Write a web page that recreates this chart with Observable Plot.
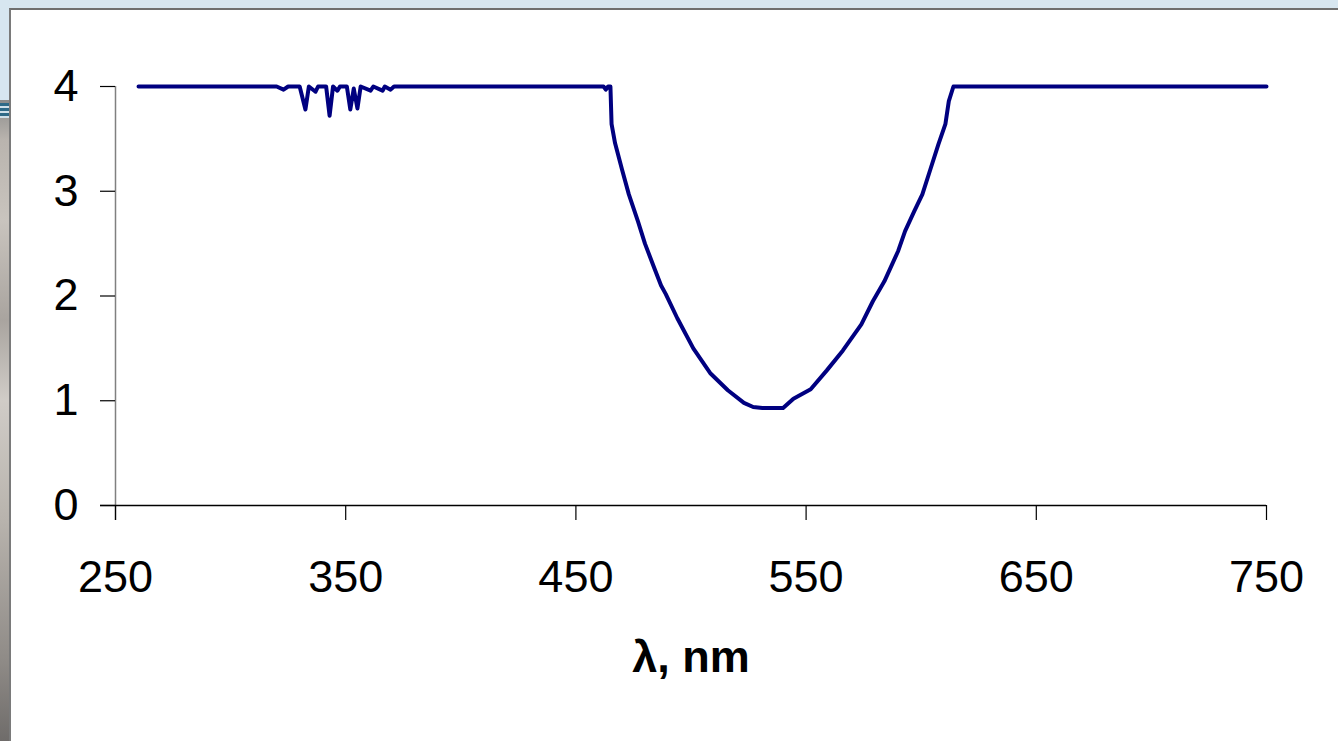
<!DOCTYPE html>
<html>
<head>
<meta charset="utf-8">
<script src="https://cdn.jsdelivr.net/npm/d3@7"></script>
<script src="https://cdn.jsdelivr.net/npm/@observablehq/plot@0.6"></script>
<style>
  html, body { margin: 0; padding: 0; }
  body { width: 1338px; height: 741px; overflow: hidden; position: relative; background: #d7e6f0; font-family: "Liberation Sans", Arial, sans-serif; }
  #strip { position: absolute; left: 0; top: 100px; width: 10px; height: 641px;
    background: linear-gradient(180deg, #8a8a8a 0px, #b9b4ae 40px, #c9c4be 120px, #a9a49f 220px, #d0ccc7 300px, #b8b3ad 420px, #8f8b87 560px, #6f6c6a 641px); }
  #marks { position: absolute; left: 0; top: 103px; width: 10px; height: 15px;
    background: repeating-linear-gradient(180deg, #2e6a88 0px, #2e6a88 3px, #cfe0ea 3px, #cfe0ea 5px); }
  #panel { position: absolute; left: 9px; top: 8px; width: 1329px; height: 733px; background: #fff;
    border-top: 2px solid #6f6f6f; border-left: 2px solid #7a7a7a; box-sizing: border-box; }
  #chart { position: absolute; left: 0; top: 0; }
</style>
</head>
<body>
<div id="strip"></div>
<div id="marks"></div>
<div id="panel"></div>
<div id="chart"></div>
<script>
// wavelength (nm)
const wavelength = [
  260, 320, 323, 325, 330, 332.5, 334, 336.9, 338, 341.5, 343, 344.5, 346.4, 347.5,
  350.5, 352, 353.5, 355.1, 356.5, 360.8, 362, 366, 367, 369.5, 371,
  462, 463, 464, 465, 465.5, 467, 470, 473, 477, 480, 484, 487, 489, 494, 501, 508.5,
  516, 523, 527, 531, 540, 544.5, 552, 559, 566, 574, 579, 584, 590, 593, 597, 600.5,
  604, 607.5, 610.5, 612, 614, 750
];
// absorbance
const absorbance = [
  4, 4, 3.97, 4, 4, 3.78, 4, 3.95, 4, 4, 3.72, 4, 3.96, 4,
  4, 3.78, 3.98, 3.79, 4, 3.96, 4, 3.96, 4, 3.97, 4,
  4, 3.97, 4, 4, 3.64, 3.46, 3.21, 2.97, 2.71, 2.50, 2.27, 2.10, 2.02, 1.79, 1.50, 1.26,
  1.10, 0.98, 0.94, 0.93, 0.93, 1.02, 1.11, 1.29, 1.48, 1.73, 1.95, 2.14, 2.43, 2.62, 2.81, 2.97,
  3.21, 3.45, 3.64, 3.86, 4, 4
];
const xTicks = [250, 350, 450, 550, 650, 750];
const yTicks = [0, 1, 2, 3, 4];
const xTitle = ["λ, nm"];

const data = wavelength.map((x, i) => ({x, y: absorbance[i]}));

const chart = Plot.plot({
  width: 1338,
  height: 741,
  marginLeft: 115,
  marginRight: 72,
  marginTop: 86,
  marginBottom: 236,
  style: {background: "transparent", fontFamily: "'Liberation Sans', Arial, sans-serif", fontSize: "45px", color: "#000", overflow: "visible"},
  x: {domain: [250, 750]},
  y: {domain: [0, 4]},
  marks: [
    Plot.ruleX([250], {stroke: "#808080", strokeWidth: 1.5, insetBottom: -15}),
    Plot.ruleY([0], {stroke: "#000", strokeWidth: 1.5, insetLeft: -15}),
    Plot.axisY({ticks: yTicks, tickFormat: d3.format("d"), tickSize: 15, tickPadding: 22, stroke: "#000", strokeOpacity: 1, strokeWidth: 1.2, label: null, fontSize: 45}),
    Plot.axisX({ticks: xTicks, tickFormat: d3.format("d"), tickSize: 15, tickPadding: 40, stroke: "#000", strokeOpacity: 1, strokeWidth: 1.2, label: null, fontSize: 45}),
    Plot.text(xTitle, {text: d => d, frameAnchor: "bottom", dy: 166, fontWeight: "bold", fontSize: 45, fill: "#000"}),
    Plot.line(data, {x: "x", y: "y", stroke: "#000080", strokeWidth: 4, strokeLinejoin: "round"})
  ]
});
document.getElementById("chart").appendChild(chart);
</script>
</body>
</html>
